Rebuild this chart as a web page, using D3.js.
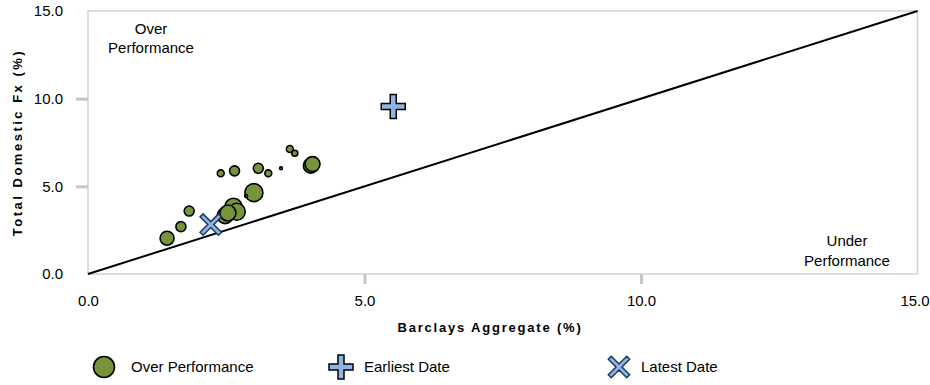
<!DOCTYPE html>
<html><head><meta charset="utf-8">
<script src="https://cdn.jsdelivr.net/npm/d3@7"></script>
<style>
html,body{margin:0;padding:0;background:#fff;}
text{font-family:Arial,"Liberation Sans",sans-serif;fill:#000;}
</style></head>
<body>
<svg id="chart" width="930" height="385"></svg>
<script>
// ---- data ----
const xVals = [1.43,1.68,1.83,2.48,2.63,2.69,2.53,3.00,2.86,2.40,2.65,3.08,3.26,3.49,3.65,3.74,4.03,4.06];
const yVals = [2.04,2.70,3.59,3.33,3.84,3.55,3.48,4.64,4.45,5.74,5.88,6.03,5.74,6.03,7.13,6.89,6.18,6.27];
const weights = [4.9,2.5,2.5,6.4,7.2,7.2,6.4,8.1,0.2,1.2,2.5,2.5,1.2,0.2,1.2,0.9,5.6,5.6];
const earliest = [5.52, 9.55];
const latest = [2.22, 2.82];
const tickVals = [0, 5, 10, 15];
const tickLabels = ["0.0","5.0","10.0","15.0"];
const legendLabels = ["Over Performance","Earliest Date","Latest Date"];

const svg = d3.select("#chart");
const L = 88, R = 917.5, T = 11, B = 274;
const x = d3.scaleLinear().domain([0,15]).range([L,R]);
const y = d3.scaleLinear().domain([0,15]).range([B,T]);
const rScale = d3.scaleSqrt().domain([0,10]).range([0,10]);

const green = "#77933c", blue = "#8db4e2", navy = "#1f3864", grid = "#d0d3d6";

// plot border
svg.append("rect").attr("x",L).attr("y",T).attr("width",R-L).attr("height",B-T)
  .attr("fill","none").attr("stroke",grid).attr("stroke-width",1.5);

// axes
const xAxis = d3.axisBottom(x).tickValues(tickVals).tickFormat((d,i)=>tickLabels[i]).tickSize(10).tickPadding(8);
const gx = svg.append("g").attr("transform",`translate(0,${B})`).call(xAxis);
gx.select(".domain").remove();
gx.selectAll(".tick line").attr("stroke","#c3c7cb").attr("stroke-width",3)
  .attr("display",(d)=> (d===0||d===15)?"none":null);
gx.selectAll(".tick text").attr("font-size",15).attr("font-family","Arial, Liberation Sans").attr("dy","0.9em")
  .attr("dx",(d)=> d===15 ? -3 : 0);

const yAxis = d3.axisLeft(y).tickValues(tickVals).tickFormat((d,i)=>tickLabels[i]).tickSize(12).tickPadding(13);
const gy = svg.append("g").attr("transform",`translate(${L},0)`).call(yAxis);
gy.select(".domain").remove();
gy.selectAll(".tick line").attr("stroke","#c3c7cb").attr("stroke-width",3)
  .attr("display",(d)=> (d===0||d===15)?"none":null);
gy.selectAll(".tick text").attr("font-size",15).attr("font-family","Arial, Liberation Sans");

// axis titles
svg.append("text").attr("x",490).attr("y",332).attr("text-anchor","middle")
  .attr("font-size",13).attr("font-weight","bold").attr("letter-spacing","1.8px")
  .text("Barclays Aggregate  (%)");
svg.append("text").attr("transform",`translate(22,${(T+B)/2}) rotate(-90)`).attr("text-anchor","middle")
  .attr("font-size",13).attr("font-weight","bold").attr("letter-spacing","2.5px")
  .text("Total Domestic Fx (%)");

// diagonal
svg.append("line").attr("x1",x(0)).attr("y1",y(0)).attr("x2",x(15)).attr("y2",y(15))
  .attr("stroke","#000").attr("stroke-width",2);

// annotations
const ann1 = svg.append("text").attr("text-anchor","middle").attr("font-size",15);
ann1.append("tspan").attr("x",151).attr("y",34).text("Over");
ann1.append("tspan").attr("x",151).attr("y",53).text("Performance");
const ann2 = svg.append("text").attr("text-anchor","middle").attr("font-size",15);
ann2.append("tspan").attr("x",847).attr("y",246).text("Under");
ann2.append("tspan").attr("x",847).attr("y",266).text("Performance");

// bubbles
const pts = xVals.map((v,i)=>({x:v,y:yVals[i],w:weights[i]}));
svg.append("g").selectAll("circle").data(pts).join("circle")
  .attr("cx",d=>x(d.x)).attr("cy",d=>y(d.y)).attr("r",d=>rScale(d.w))
  .attr("fill",green).attr("stroke","#000").attr("stroke-width",1.6);

// marker shapes
function plusPath(s, w){
  return `M${-w},${-s}H${w}V${-w}H${s}V${w}H${w}V${s}H${-w}V${w}H${-s}V${-w}H${-w}Z`;
}
function xPath(s, w){
  const pts0 = [[-w,-s],[w,-s],[w,-w],[s,-w],[s,w],[w,w],[w,s],[-w,s],[-w,w],[-s,w],[-s,-w],[-w,-w]];
  const c = Math.SQRT1_2;
  return "M"+pts0.map(([a,b])=>[(a-b)*c,(a+b)*c].map(v=>v.toFixed(2)).join(",")).join("L")+"Z";
}
svg.append("path").attr("d",plusPath(12,3)).attr("transform",`translate(${x(earliest[0])},${y(earliest[1])})`)
  .attr("fill",blue).attr("stroke","#000").attr("stroke-width",1.5);
svg.append("path").attr("d",xPath(13,2.1)).attr("transform",`translate(${x(latest[0])},${y(latest[1])})`)
  .attr("fill",blue).attr("stroke",navy).attr("stroke-width",1.5);

// legend
const ly = 367;
svg.append("circle").attr("cx",104).attr("cy",ly).attr("r",10.5).attr("fill",green).attr("stroke","#000").attr("stroke-width",1.6);
svg.append("path").attr("d",plusPath(12,3)).attr("transform",`translate(341,${ly})`)
  .attr("fill",blue).attr("stroke","#000").attr("stroke-width",1.5);
svg.append("path").attr("d",xPath(13,2.1)).attr("transform",`translate(619,${ly})`)
  .attr("fill",blue).attr("stroke",navy).attr("stroke-width",1.5);
const lx = [131, 364, 641];
legendLabels.forEach((t,i)=>{
  svg.append("text").attr("x",lx[i]).attr("y",ly+5).attr("font-size",15).text(t);
});
</script>
</body></html>
